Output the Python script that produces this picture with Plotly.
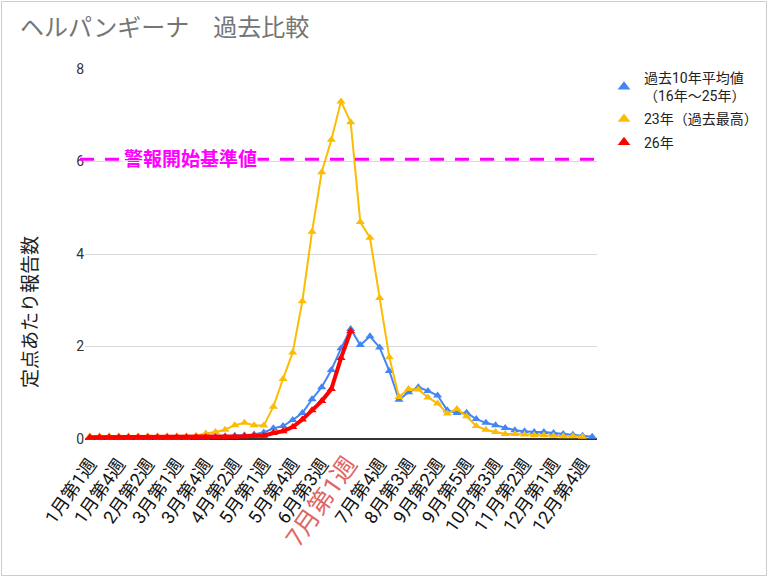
import plotly.graph_objects as go

weeks = [
    "1月第1週", "1月第2週", "1月第3週", "1月第4週", "1月第5週",
    "2月第1週", "2月第2週", "2月第3週", "2月第4週",
    "3月第1週", "3月第2週", "3月第3週", "3月第4週", "3月第5週",
    "4月第1週", "4月第2週", "4月第3週", "4月第4週",
    "5月第1週", "5月第2週", "5月第3週", "5月第4週",
    "6月第1週", "6月第2週", "6月第3週", "6月第4週", "6月第5週",
    "7月第1週", "7月第2週", "7月第3週", "7月第4週",
    "8月第1週", "8月第2週", "8月第3週", "8月第4週",
    "9月第1週", "9月第2週", "9月第3週", "9月第4週", "9月第5週",
    "10月第1週", "10月第2週", "10月第3週", "10月第4週",
    "11月第1週", "11月第2週", "11月第3週", "11月第4週",
    "12月第1週", "12月第2週", "12月第3週", "12月第4週", "12月第5週",
]

tick_weeks = ["1月第1週", "1月第4週", "2月第2週", "3月第1週", "3月第4週", "4月第2週",
              "5月第1週", "5月第4週", "6月第3週", "7月第1週", "7月第4週", "8月第3週",
              "9月第2週", "9月第5週", "10月第3週", "11月第2週", "12月第1週", "12月第4週"]
highlight_week = "7月第1週"

avg10 = [0.03, 0.03, 0.03, 0.03, 0.03, 0.03, 0.03, 0.03, 0.03, 0.03,
         0.03, 0.04, 0.04, 0.05, 0.06, 0.07, 0.08, 0.1, 0.14, 0.23,
         0.28, 0.41, 0.56, 0.86, 1.12, 1.49, 1.96, 2.38, 2.03, 2.22,
         1.98, 1.47, 0.85, 1.01, 1.12, 1.04, 0.94, 0.62, 0.56, 0.57,
         0.43, 0.35, 0.3, 0.24, 0.19, 0.17, 0.15, 0.15, 0.13, 0.11,
         0.09, 0.07, 0.05]

y2023 = [0.06, 0.06, 0.06, 0.06, 0.06, 0.06, 0.06, 0.06, 0.06, 0.06,
         0.06, 0.07, 0.12, 0.15, 0.2, 0.3, 0.35, 0.3, 0.29, 0.7,
         1.3, 1.87, 2.98, 4.48, 5.77, 6.47, 7.3, 6.85, 4.69, 4.35,
         3.05, 1.77, 0.91, 1.08, 1.07, 0.9, 0.77, 0.55, 0.65, 0.49,
         0.28, 0.2, 0.15, 0.11, 0.11, 0.1, 0.08, 0.08, 0.07, 0.06,
         0.06, 0.05, None]

y2026 = [0.04, 0.04, 0.04, 0.04, 0.04, 0.04, 0.04, 0.04, 0.04, 0.04,
         0.04, 0.04, 0.04, 0.04, 0.04, 0.05, 0.06, 0.07, 0.07, 0.13,
         0.17, 0.26, 0.42, 0.62, 0.82, 1.08, 1.75, 2.33]

alert_level = 6.05
alert_label = "警報開始基準値"

names = ["過去10年平均値<br>（16年～25年）", "23年（過去最高）", "26年"]
colors = ["#4285f4", "#fbbc04", "#ff0000"]
widths = [2, 2, 4]
series = [avg10, y2023, y2026]

FONT = "Roboto, 'Noto Sans CJK JP', sans-serif"

fig = go.Figure()
for name, col, w, ys in zip(names, colors, widths, series):
    fig.add_trace(go.Scatter(
        x=weeks[:len(ys)], y=ys, mode="lines+markers",
        line=dict(color=col, width=w),
        marker=dict(symbol="triangle-up", size=8, color=col),
        showlegend=False, cliponaxis=False, hoverinfo="x+y"))
for k, (name, col) in enumerate(zip(names, colors)):
    fig.add_trace(go.Scatter(
        x=[None], y=[None], mode="markers", name=name, legendgroup="g%d" % k,
        marker=dict(symbol="triangle-up", size=11, color=col)))

ticktext = []
for t in tick_weeks:
    if t == highlight_week:
        ticktext.append("<span style='color:#e06666;font-size:25px'>" + t + "</span>")
    else:
        ticktext.append(t)

W, H = 768, 577
ml, mr, mt, mb = 85, 171, 69, 138
pw, ph = W - ml - mr, H - mt - mb


def px(x):
    return (x - ml) / pw


def py(y):
    return (H - mb - y) / ph


fig.add_shape(type="line", xref="paper", yref="y", x0=px(80), x1=1, y0=alert_level, y1=alert_level,
              line=dict(color="#ff00ff", width=3, dash="14px,11px"))
fig.add_annotation(xref="paper", yref="y", x=px(190), y=alert_level, xanchor="center", yanchor="middle",
                   text="<b>" + alert_label + "</b>",
                   showarrow=False, bgcolor="white", font=dict(color="#ff00ff", size=19, family=FONT),
                   borderpad=0)
fig.add_annotation(xref="paper", yref="paper", x=px(30), y=py(312), xanchor="center", yanchor="middle",
                   text="定点あたり報告数",
                   textangle=-90, showarrow=False, font=dict(size=19, color="#222222", family=FONT))
fig.add_shape(type="rect", xref="paper", yref="paper", x0=px(1.5), x1=px(766.5), y0=py(575.5), y1=py(1.5),
              line=dict(color="#cccccc", width=1), layer="below")

fig.update_layout(
    width=W, height=H,
    margin=dict(l=ml, r=mr, t=mt, b=mb, autoexpand=False),
    paper_bgcolor="white", plot_bgcolor="white",
    font=dict(family=FONT, color="#222222"),
    title=dict(text="ヘルパンギーナ　過去比較", xref="container", yref="container",
               x=20 / W, y=1 - 28 / H, xanchor="left", yanchor="middle",
               font=dict(size=24, color="#757575", family=FONT)),
    legend=dict(x=px(604), y=py(62), xanchor="left", yanchor="top",
                font=dict(size=14, color="#222222", family=FONT),
                tracegroupgap=2, itemwidth=30, bgcolor="rgba(0,0,0,0)"),
    xaxis=dict(type="category", categoryorder="array", categoryarray=weeks,
               range=[-0.5, len(weeks) - 0.5], automargin=False,
               tickmode="array", tickvals=tick_weeks, ticktext=ticktext,
               tickangle=-55, tickfont=dict(size=18, color="#111111", family=FONT),
               ticklabelstandoff=10,
               showgrid=False, showline=False, ticks="", zeroline=False),
    yaxis=dict(range=[0, 8], tickvals=[0, 2, 4, 6, 8], showgrid=True, gridcolor="#d9d9d9",
               gridwidth=1, zeroline=True, zerolinecolor="#333333", zerolinewidth=1.5,
               automargin=False,
               tickfont=dict(size=14, color="#333333", family=FONT), ticks="", ticklen=0,
               showline=False),
)

fig.write_html("out.html")
